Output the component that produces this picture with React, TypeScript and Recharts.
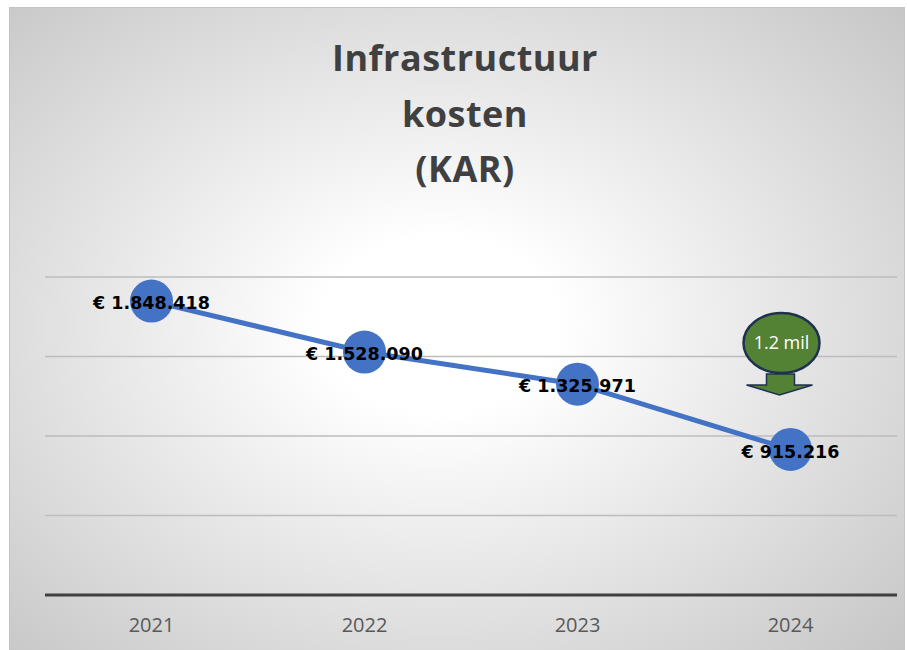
import {
  LineChart,
  Line,
  XAxis,
  YAxis,
  CartesianGrid,
  LabelList,
  ReferenceDot,
} from "recharts";

const YEARS = ["2021", "2022", "2023", "2024"];
const COSTS = [1848418, 1528090, 1325971, 915216];
const Y_TICKS = [0, 500000, 1000000, 1500000, 2000000];
const TITLE_LINES = ["Infrastructuur", "kosten", "(KAR)"];
const NOTE_YEAR = "2024";
const NOTE_VALUE = 1585000;
const NOTE_TEXT = "1.2 mil";

const BLUE = "#4472C4";
const GREEN = "#548235";
const NAVY = "#1F3050";
const GRID = "#bdbdbd";
const AXIS = "#404040";
const TICK = "#595959";

const data = YEARS.map((year, i) => ({ year, cost: COSTS[i] }));

function euro(n: number): string {
  return "€ " + String(n).replace(/\B(?=(\d{3})+(?!\d))/g, ".");
}

// green bubble with a down arrow, anchored on the 2024 column
function NoteShape({ cx, cy }: { cx?: number; cy?: number }) {
  if (cx == null || cy == null) return null;
  const x = cx - 9;
  return (
    <g>
      <ellipse cx={x} cy={cy} rx={38} ry={30} fill={GREEN} stroke={NAVY} strokeWidth={2.5} />
      <text
        x={x}
        y={cy + 6}
        textAnchor="middle"
        fill="#fff"
        fontSize={18}
        fontFamily="'Open Sans', sans-serif"
      >
        {NOTE_TEXT}
      </text>
      <polygon
        points={`${x - 15},${cy + 31} ${x + 13},${cy + 31} ${x + 13},${cy + 42} ${x + 31},${cy + 42} ${x - 2},${cy + 52} ${x - 35},${cy + 42} ${x - 15},${cy + 42}`}
        fill={GREEN}
        stroke={NAVY}
        strokeWidth={1.5}
        strokeLinejoin="miter"
      />
    </g>
  );
}

export default function App() {
  return (
    <div
      style={{
        position: "absolute",
        left: 0,
        top: 0,
        width: 907,
        height: 650,
        background: "#fff",
        overflow: "hidden",
      }}
    >
      <div
        style={{
          position: "absolute",
          left: 9,
          top: 7,
          width: 894,
          height: 660,
          border: "1px solid #c4c4c4",
          background:
            "radial-gradient(ellipse farthest-corner at 48% 48%, #ffffff 0%, #ffffff 18%, #c4c4c4 100%)",
        }}
      />
      <div
        style={{
          position: "absolute",
          left: 0,
          top: 30,
          width: 930,
          textAlign: "center",
          fontFamily: "'Open Sans', sans-serif",
          fontWeight: 700,
          fontSize: 36,
          lineHeight: "55.5px",
          color: "#404040",
          letterSpacing: 0.5,
        }}
      >
        {TITLE_LINES.map((t) => (
          <div key={t}>{t}</div>
        ))}
      </div>
      <div style={{ position: "absolute", left: 0, top: 0 }}>
        <LineChart
          width={907}
          height={650}
          data={data}
          margin={{ top: 277, right: 10, left: 45, bottom: 15 }}
        >
          <CartesianGrid vertical={false} stroke={GRID} strokeWidth={1.5} />
          <XAxis
            dataKey="year"
            scale="band"
            height={40}
            tickLine={false}
            tickMargin={17}
            axisLine={{ stroke: AXIS, strokeWidth: 3 }}
            tick={{ fill: TICK, fontSize: 20, fontFamily: "'Open Sans', sans-serif" }}
          />
          <YAxis hide domain={[0, 2000000]} ticks={Y_TICKS} />
          <Line
            dataKey="cost"
            stroke={BLUE}
            strokeWidth={5}
            dot={{ r: 21.5, fill: BLUE, stroke: "none" }}
            activeDot={false}
            isAnimationActive={false}
          >
            <LabelList
              dataKey="cost"
              position="center"
              formatter={(v: any) => euro(Number(v))}
              fill="#000"
              fontSize={17.5}
              fontWeight={700}
              fontFamily="'DejaVu Sans', sans-serif"
              dy={2}
            />
          </Line>
          <ReferenceDot
            x={NOTE_YEAR}
            y={NOTE_VALUE}
            ifOverflow="visible"
            shape={(p: any) => <NoteShape cx={p.cx} cy={p.cy} />}
          />
        </LineChart>
      </div>
    </div>
  );
}
